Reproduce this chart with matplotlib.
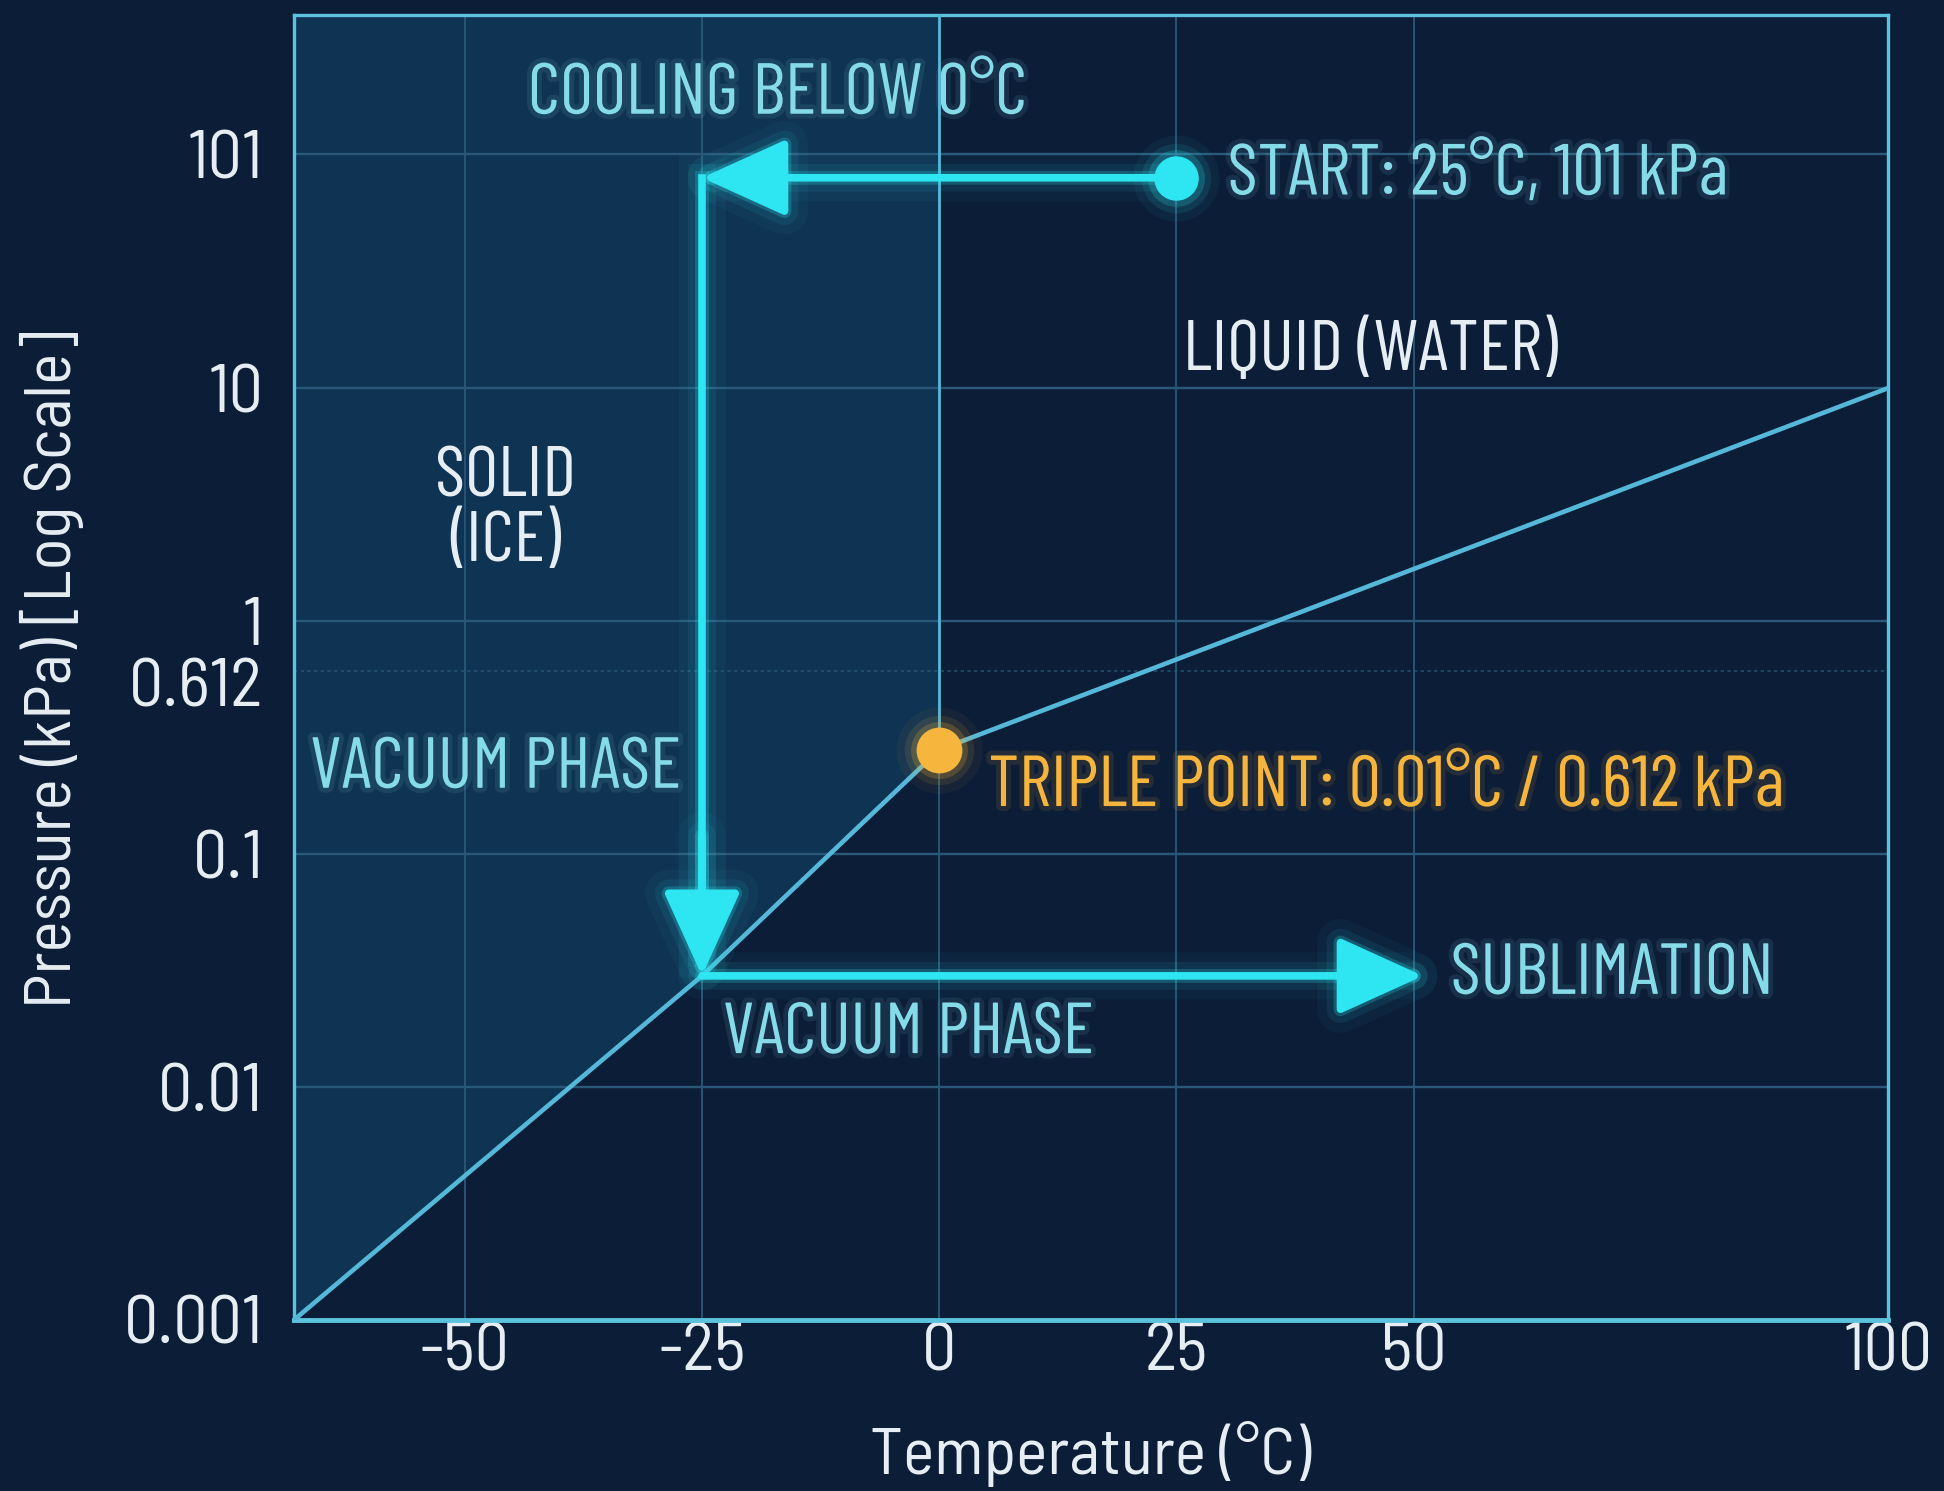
import matplotlib
matplotlib.use('Agg')
import matplotlib.pyplot as plt
import matplotlib.patheffects as pe
import matplotlib.transforms as mtransforms
from matplotlib import font_manager as fm

# fonts: condensed DIN-like faces if available
avail = set(f.name for f in fm.fontManager.ttflist)
cond = next((f for f in ['Barlow Condensed', 'Barlow Semi Condensed', 'Fira Sans Condensed'] if f in avail), 'DejaVu Sans')
semi = next((f for f in ['Barlow Semi Condensed', 'Barlow Condensed', 'Fira Sans Condensed'] if f in avail), 'DejaVu Sans')
plt.rcParams['font.family'] = [semi, 'DejaVu Sans']

# data
temp_lim = (-68, 100)
pres_lim = (0.001, 400)
x_ticks = [-50, -25, 0, 25, 50, 100]
y_ticks = [0.001, 0.01, 0.1, 0.612, 1, 10, 101]
y_labels = ['0.001', '0.01', '0.1', '0.612', '1', '10', '101']
grid_p = [0.01, 0.1, 1, 10, 101]

tp_t, tp_p = 0.01, 0.28          # triple point as drawn
subl_t = [-68, -25, tp_t]         # solid / vapour boundary
subl_p = [0.001, 0.03, tp_p]
vap_t = [tp_t, 100]               # liquid / vapour boundary
vap_p = [tp_p, 10]
start_t, start_p = 25, 80
corner_t = -25
vac_p = 0.03
subl_end_t = 51

# colours
bg = '#0c1d37'
solid_c = '#0f3352'
frame_c = '#5cc3df'
grid_c = '#2a5878'
phase_c = '#55b8d8'
path_c = '#2ee6f2'
orange = '#f6b53c'
cyan_txt = '#86dbe9'
white_txt = '#e6eef4'

fig = plt.figure(figsize=(19.44, 14.91), dpi=100, facecolor=bg)
ax = fig.add_axes([0.1512, 0.1147, 0.82, 0.8753])
ax.set_facecolor(bg)
ax.set_yscale('log')
ax.set_xlim(*temp_lim)
ax.set_ylim(*pres_lim)

# solid region
ax.fill_between(subl_t, subl_p, pres_lim[1], color=solid_c, lw=0, zorder=0)

# grid
for t in x_ticks[:-1]:
    ax.axvline(t, color=grid_c, lw=1.3, zorder=1)
for p in grid_p:
    ax.axhline(p, color=grid_c, lw=1.7, zorder=1)
ax.axhline(0.612, color=grid_c, lw=1.2, ls=(0, (2, 2)), alpha=0.8, zorder=1)

# phase boundaries
ax.plot(subl_t, subl_p, color=phase_c, lw=3.3, zorder=3, solid_capstyle='round')
ax.plot(vap_t, vap_p, color=phase_c, lw=3.3, zorder=3, solid_capstyle='round')
ax.plot([tp_t, tp_t], [tp_p, pres_lim[1]], color=phase_c, lw=2.0, zorder=3)

# glowing process path
glow = [pe.Stroke(linewidth=34, foreground=path_c, alpha=0.04),
        pe.Stroke(linewidth=20, foreground=path_c, alpha=0.08),
        pe.Stroke(linewidth=10, foreground=path_c, alpha=0.22),
        pe.Normal()]
ax.plot([corner_t, corner_t], [start_p, vac_p * 1.25], color=path_c, lw=5.5,
        zorder=5, path_effects=glow)
arrow_kw = dict(arrowstyle='-|>,head_length=1.1,head_width=0.5', color=path_c, lw=5.5,
                mutation_scale=48, shrinkA=0, shrinkB=0, path_effects=glow)
ax.annotate('', xy=(corner_t, start_p), xytext=(start_t, start_p), arrowprops=arrow_kw, zorder=6)
ax.annotate('', xy=(corner_t, vac_p), xytext=(corner_t, vac_p * 4), arrowprops=arrow_kw, zorder=6)
ax.annotate('', xy=(subl_end_t, vac_p), xytext=(corner_t, vac_p), arrowprops=arrow_kw, zorder=6)

# markers
for ms, a in [(62, 0.05), (50, 0.1), (41, 0.2)]:
    ax.plot(start_t, start_p, 'o', ms=ms, color=path_c, alpha=a, mec='none', zorder=6)
    ax.plot(tp_t, tp_p, 'o', ms=ms, color=orange, alpha=a, mec='none', zorder=6)
ax.plot(start_t, start_p, 'o', ms=32, color=path_c, mec='none', zorder=7)
ax.plot(tp_t, tp_p, 'o', ms=33, color=orange, mec='none', zorder=7)

# annotations
def tglow(c):
    return [pe.Stroke(linewidth=7, foreground=c, alpha=0.10), pe.Normal()]

fs = 52
lab = dict(fontsize=fs, va='center', family=[cond, 'DejaVu Sans'])
ax.text(-17, 180, 'COOLING BELOW 0°C', color=cyan_txt, ha='center', path_effects=tglow(cyan_txt), **lab)
ax.text(30.4, 81, 'START: 25°C, 101 kPa', color=cyan_txt, ha='left', path_effects=tglow(cyan_txt), **lab)
ax.text(45.4, 14.3, 'LIQUID (WATER)', color=white_txt, ha='center', **lab)
ax.text(-45.7, 2.97, 'SOLID\n(ICE)', color=white_txt, ha='center', linespacing=1.0, **lab)
ax.text(-66.3, 0.23, 'VACUUM PHASE', color=cyan_txt, ha='left', path_effects=tglow(cyan_txt), **lab)
ax.text(5.2, 0.192, 'TRIPLE POINT: 0.01°C / 0.612 kPa', color=orange, ha='left', path_effects=tglow(orange), **lab)
ax.text(53.9, vac_p, 'SUBLIMATION', color=cyan_txt, ha='left', path_effects=tglow(cyan_txt), **lab)
ax.text(-22.8, 0.0167, 'VACUUM PHASE', color=cyan_txt, ha='left', path_effects=tglow(cyan_txt), **lab)

# axes styling
for s in ax.spines.values():
    s.set_color(frame_c)
    s.set_linewidth(2.4)
ax.spines['bottom'].set_linewidth(3.5)
ax.set_xticks(x_ticks)
ax.set_xticklabels([str(t) for t in x_ticks])
ax.set_yticks(y_ticks)
ax.set_yticklabels(y_labels)
ax.minorticks_off()
ax.tick_params(axis='both', length=0, labelsize=49, colors=white_txt)
ax.tick_params(axis='x', pad=2)
ax.tick_params(axis='y', pad=22)

# push the 0.612 label a little below its line so it clears "1"
for lbl in ax.get_yticklabels():
    if lbl.get_text() == '0.612':
        lbl.set_transform(lbl.get_transform() + mtransforms.ScaledTranslation(0, -12 / 100, fig.dpi_scale_trans))

fig.text(0.0267, 0.551, 'Pressure (kPa) [Log Scale]', rotation=90, ha='center', va='center',
         color=white_txt, fontsize=48)
fig.text(0.561, 0.025, 'Temperature (°C)', ha='center', va='center',
         color=white_txt, fontsize=48)

fig.savefig('out.png', dpi=100, facecolor=bg)
